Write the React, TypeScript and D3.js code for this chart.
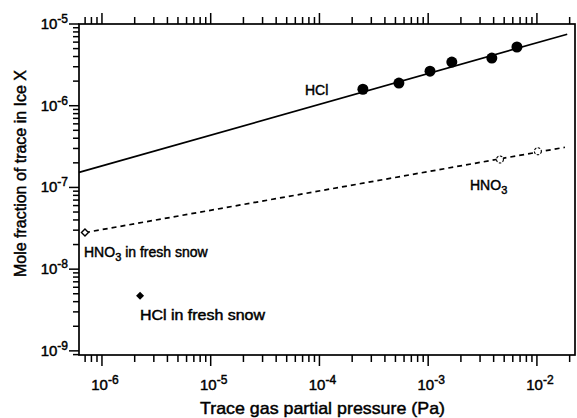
import React from "react";
import * as d3 from "d3";

const xDomain: [number, number] = [6.15e-7, 2.24e-2];
const yDomain: [number, number] = [8.9e-10, 1e-5];

const xTickExps = [-6, -5, -4, -3, -2];
const yTickExps = [-9, -8, -7, -6, -5];

const hclPx = [2.51e-4, 5.38e-4, 1.04e-3, 1.65e-3, 3.85e-3, 6.55e-3];
const hclPy = [1.59e-6, 1.89e-6, 2.65e-6, 3.42e-6, 3.83e-6, 5.23e-6];

const hclLineX = [6.15e-7, 1.9e-2];
const hclLineY = [1.53e-7, 7.5e-6];

const hno3LineX = [6.98e-7, 1.81e-2];
const hno3LineY = [2.8e-8, 3.1e-7];

const hno3Px = [4.57e-3, 1.02e-2];
const hno3Py = [2.2e-7, 2.77e-7];

const snowHno3 = { x: 6.98e-7, y: 2.8e-8 };
const snowHcl = { x: 2.24e-6, y: 4.73e-9 };

const W = 577, H = 418;
const M = { left: 79, right: 2, top: 24, bottom: 63 };

export default function App() {
  const x = d3.scaleLog().domain(xDomain).range([M.left, W - M.right]);
  const y = d3.scaleLog().domain(yDomain).range([H - M.bottom, M.top]);
  const x0 = M.left, x1 = W - M.right, y0 = H - M.bottom, y1 = M.top;

  const xMinor: number[] = [];
  for (let e = -7; e <= -2; e++) for (let m = 1; m <= 9; m++) {
    const v = m * Math.pow(10, e);
    if (v >= xDomain[0] && v <= xDomain[1]) xMinor.push(v);
  }
  const yMinor: number[] = [];
  for (let e = -10; e <= -5; e++) for (let m = 1; m <= 9; m++) {
    const v = m * Math.pow(10, e);
    if (v >= yDomain[0] && v <= yDomain[1] * 1.0001) yMinor.push(v);
  }
  const isMajor = (v: number) => Math.abs(Math.log10(v) - Math.round(Math.log10(v))) < 1e-6;

  const line = d3.line<[number, number]>().x(d => x(d[0])).y(d => y(d[1]));
  const font = "'Liberation Sans', Arial, Helvetica, sans-serif";
  const diamond = (cx: number, cy: number, r: number) =>
    `M${cx},${cy - r}L${cx + r},${cy}L${cx},${cy + r}L${cx - r},${cy}Z`;
  const thick = { stroke: "#000", strokeWidth: 0.45 } as const;

  return (
    <svg width={W} height={H} style={{ position: "absolute", left: 0, top: 0, background: "#fff" }}
      fontFamily={font}>
      <rect x={0} y={0} width={W} height={H} fill="#fff" />
      <rect x={x0} y={y1} width={x1 - x0} height={y0 - y1} fill="none" stroke="#000" strokeWidth={1.7} />
      {xMinor.map((v, i) => {
        const len = isMajor(v) ? 11 : 7;
        return (
          <g key={"xt" + i} stroke="#000" strokeWidth={1.5}>
            <line x1={x(v)} x2={x(v)} y1={y0} y2={y0 + len} />
            <line x1={x(v)} x2={x(v)} y1={y1} y2={y1 - len} />
          </g>
        );
      })}
      {yMinor.map((v, i) => {
        const len = isMajor(v) ? 10 : 6;
        return <line key={"yt" + i} x1={x0} x2={x0 - len} y1={y(v)} y2={y(v)} stroke="#000" strokeWidth={1.5} />;
      })}
      {xTickExps.map(e => (
        <text key={"xl" + e} x={x(Math.pow(10, e)) + 3} y={390} textAnchor="middle" fontSize={15} fill="#000" {...thick}>
          10<tspan fontSize={12} dy={-6}>{e}</tspan>
        </text>
      ))}
      {yTickExps.map(e => (
        <text key={"yl" + e} x={68} y={y(Math.pow(10, e)) + 5} textAnchor="end" fontSize={15} fill="#000" {...thick}>
          10<tspan fontSize={12} dy={-6}>{e}</tspan>
        </text>
      ))}
      <text x={200} y={414} fontSize={17} fill="#000" textLength={245} lengthAdjust="spacingAndGlyphs" {...thick}>
        Trace gas partial pressure (Pa)
      </text>
      <text transform={`translate(26,277) rotate(-90)`} fontSize={17} fill="#000" textLength={207} lengthAdjust="spacingAndGlyphs" {...thick}>
        Mole fraction of trace in Ice X
      </text>
      <path d={line(hclLineX.map((v, i) => [v, hclLineY[i]]) as [number, number][]) || ""}
        fill="none" stroke="#000" strokeWidth={1.7} />
      <path d={line(hno3LineX.map((v, i) => [v, hno3LineY[i]]) as [number, number][]) || ""}
        fill="none" stroke="#000" strokeWidth={1.7} strokeDasharray="5,4" />
      {hclPx.map((v, i) => (
        <circle key={"hp" + i} cx={x(v)} cy={y(hclPy[i])} r={5.5} fill="#000" />
      ))}
      {hno3Px.map((v, i) => (
        <circle key={"np" + i} cx={x(v)} cy={y(hno3Py[i])} r={3.5} fill="#fff" stroke="#000" strokeWidth={1.1} strokeDasharray="2.5,1.5" />
      ))}
      <path d={diamond(x(snowHno3.x), y(snowHno3.y), 3.5)} fill="#fff" stroke="#000" strokeWidth={1.4} />
      <path d={diamond(x(snowHcl.x), y(snowHcl.y), 4)} fill="#000" />
      <text x={305} y={95} fontSize={14} fill="#000" {...thick}>HCl</text>
      <text x={470} y={190} fontSize={14} fill="#000" {...thick}>HNO<tspan fontSize={11} dy={4}>3</tspan></text>
      <text x={84} y={257} fontSize={14} fill="#000" {...thick}>HNO<tspan fontSize={11} dy={4}>3</tspan><tspan dy={-4}> in fresh snow</tspan></text>
      <text x={140} y={320} fontSize={14} fill="#000" textLength={125} lengthAdjust="spacingAndGlyphs" {...thick}>HCl in fresh snow</text>
    </svg>
  );
}
